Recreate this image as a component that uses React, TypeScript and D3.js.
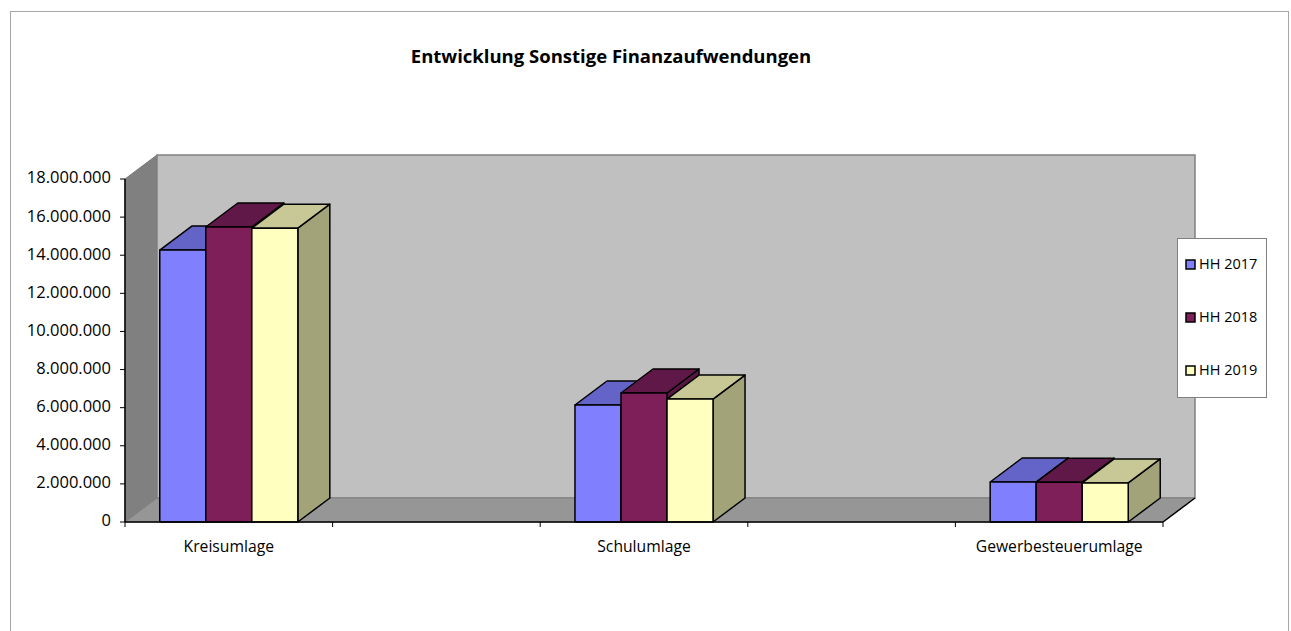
import React from "react";
import * as d3 from "d3";

const categories = ["Kreisumlage", "Schulumlage", "Gewerbesteuerumlage"];
const seriesNames = ["HH 2017", "HH 2018", "HH 2019"];
const hh2017 = [14270000, 6140000, 2100000];
const hh2018 = [15480000, 6770000, 2090000];
const hh2019 = [15420000, 6450000, 2050000];
const yTicks = [0, 2000000, 4000000, 6000000, 8000000, 10000000, 12000000, 14000000, 16000000, 18000000];

const seriesValues = [hh2017, hh2018, hh2019];
const colors = [
  { front: "#8080ff", top: "#6464c8", side: "#5a5ab4" },
  { front: "#7f1f5a", top: "#601848", side: "#581642" },
  { front: "#ffffc0", top: "#c8c896", side: "#a3a37a" },
];

const de = d3.formatLocale({ decimal: ",", thousands: ".", grouping: [3], currency: ["", " €"] });
const fmt = de.format(",");

const W = 1291;
const H = 631;
const dx = 32;
const dy = 24;
const font = "'Open Sans', sans-serif";

export default function App() {
  const y = d3.scaleLinear().domain([0, 18000000]).range([522, 179]);
  // five slots along the axis, categories sit in slots 0, 2 and 4
  const x = d3.scaleLinear().domain([0, 5]).range([125, 1163]);
  const slot = x(1) - x(0);
  const groupW = slot * 0.665;
  const base = y(0);
  const x0 = x(0);
  const x1 = x(5);
  const top = y(18000000);

  const bars: { x0: number; x1: number; yt: number; c: typeof colors[0]; key: string }[] = [];
  categories.forEach((cat, i) => {
    const cx = x(i * 2 + 0.5);
    const inner = d3.scaleBand<string>().domain(seriesNames).range([cx - groupW / 2, cx + groupW / 2]);
    seriesNames.forEach((s, j) => {
      const bx = inner(s)!;
      bars.push({ x0: bx, x1: bx + inner.bandwidth(), yt: y(seriesValues[j][i]), c: colors[j], key: cat + s });
    });
  });

  const pts = (p: number[][]) => p.map((d) => d.join(",")).join(" ");

  return (
    <svg width={W} height={H} style={{ position: "absolute", left: 0, top: 0, background: "#fff" }}>
      <rect x={10.5} y={11.5} width={1278} height={640} fill="#fff" stroke="#a6a6a6" />
      <text x={611} y={58} textAnchor="middle" dominantBaseline="middle" fontFamily={font} fontWeight="bold" fontSize={18.5}>
        Entwicklung Sonstige Finanzaufwendungen
      </text>

      {/* walls and floor */}
      <polygon points={pts([[x0, top], [x0 + dx, top - dy], [x0 + dx, base - dy], [x0, base]])} fill="#808080" stroke="#777" />
      <rect x={x0 + dx} y={top - dy} width={x1 - x0} height={base - top} fill="#c0c0c0" stroke="#808080" strokeWidth={1.5} />
      <polygon points={pts([[x0, base], [x0 + dx, base - dy], [x1 + dx, base - dy], [x1, base]])} fill="#969696" stroke="#808080" />
      <line x1={x1} y1={base} x2={x1 + dx} y2={base - dy} stroke="#000" strokeWidth={1.5} />

      {/* bars */}
      {bars.map((b) => (
        <g key={b.key} stroke="#000" strokeWidth={1.5} strokeLinejoin="round">
          <polygon points={pts([[b.x1, b.yt], [b.x1 + dx, b.yt - dy], [b.x1 + dx, base - dy], [b.x1, base]])} fill={b.c.side} />
          <polygon points={pts([[b.x0, b.yt], [b.x0 + dx, b.yt - dy], [b.x1 + dx, b.yt - dy], [b.x1, b.yt]])} fill={b.c.top} />
          <rect x={b.x0} y={b.yt} width={b.x1 - b.x0} height={base - b.yt} fill={b.c.front} />
        </g>
      ))}

      {/* y axis */}
      <line x1={x0} y1={top} x2={x0} y2={base} stroke="#000" strokeWidth={1.5} />
      {yTicks.map((t) => (
        <g key={t}>
          <line x1={x0 - 5} x2={x0} y1={y(t)} y2={y(t)} stroke="#000" />
          <text x={111} y={y(t)} textAnchor="end" dominantBaseline="middle" fontFamily={font} fontSize={16.5}>
            {fmt(t)}
          </text>
        </g>
      ))}

      {/* x axis */}
      <line x1={x0} y1={base} x2={x1} y2={base} stroke="#000" strokeWidth={1.5} />
      {d3.range(0, 6).map((k) => (
        <line key={k} x1={x(k)} x2={x(k)} y1={base} y2={base + 5} stroke="#000" />
      ))}
      {categories.map((c, i) => (
        <text key={c} x={x(i * 2 + 0.5)} y={548} textAnchor="middle" dominantBaseline="middle" fontFamily={font} fontSize={15.7}>
          {c}
        </text>
      ))}

      {/* legend */}
      <rect x={1177.5} y={238.5} width={89} height={159} fill="#fff" stroke="#808080" />
      {seriesNames.map((s, j) => (
        <g key={s}>
          <rect x={1186} y={260 + j * 53} width={9} height={9} fill={colors[j].front} stroke="#000" strokeWidth={1.5} />
          <text x={1199} y={265 + j * 53} dominantBaseline="middle" fontFamily={font} fontSize={14.5}>
            {s}
          </text>
        </g>
      ))}
    </svg>
  );
}
